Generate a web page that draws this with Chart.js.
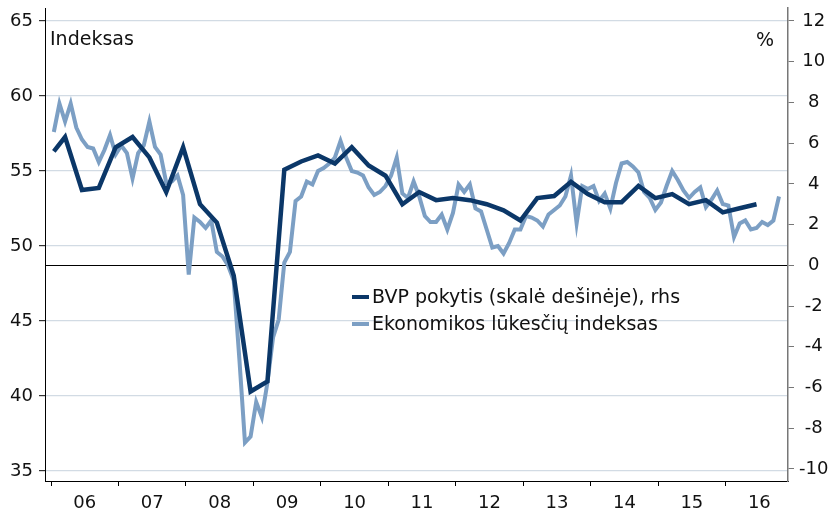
<!DOCTYPE html>
<html>
<head>
<meta charset="utf-8">
<script src="https://cdn.jsdelivr.net/npm/chart.js@4/dist/chart.umd.min.js"></script>
<style>
  html, body { margin: 0; padding: 0; background: #fff; }
  #wrap { width: 830px; height: 512px; }
</style>
</head>
<body>
<div id="wrap"><canvas id="chart"></canvas></div>
<script>
// Ekonomikos lūkesčių indeksas, monthly from 2006-01
const esiValues = [
  57.6, 59.5, 58.3, 59.5, 57.9, 57.1, 56.6, 56.5, 55.6, 56.4, 57.4, 56.1,
  56.7, 56.2, 54.5, 56.2, 56.7, 58.3, 56.6, 56.1, 54.2, 54.3, 54.7, 53.4,
  48.1, 51.9, 51.6, 51.2, 51.7, 49.6, 49.3, 48.7, 47.7, 42.5, 36.9, 37.3,
  39.6, 38.6, 40.9, 43.9, 45.1, 48.9, 49.6, 53.0, 53.3, 54.3, 54.1, 55.0,
  55.2, 55.5, 55.9, 57.0, 55.9, 55.0, 54.9, 54.7, 53.9, 53.4, 53.6, 54.0,
  54.7, 55.9, 53.5, 53.2, 54.3, 53.3, 52.0, 51.6, 51.6, 52.1, 51.1, 52.2,
  54.1, 53.6, 54.1, 52.5, 52.3, 51.1, 49.9, 50.0, 49.5, 50.2, 51.1, 51.1,
  52.0, 51.9, 51.7, 51.3, 52.1, 52.4, 52.7, 53.3, 54.7, 51.5, 54.0, 53.8,
  54.0, 53.0, 53.5, 52.5, 54.2, 55.5, 55.6, 55.3, 54.9, 53.6, 53.2, 52.4,
  52.9, 54.0, 55.0, 54.4, 53.7, 53.2, 53.6, 53.9, 52.6, 53.1, 53.7, 52.8,
  52.7, 50.6, 51.5, 51.7, 51.1, 51.2, 51.6, 51.4, 51.7, 53.3
];
// BVP pokytis, %: first value 2006-01, then quarterly (2006 Q1 ... 2016 Q2)
const gdpValues = [
  5.6,
  6.3, 3.7, 3.8, 5.8, 6.3, 5.3, 3.6, 5.8, 3.0, 2.1,
  -0.5, -6.2, -5.7, 4.7, 5.1, 5.4, 5.0, 5.8, 4.9, 4.4,
  3.0, 3.6, 3.2, 3.3, 3.2, 3.0, 2.7, 2.2, 3.3, 3.4,
  4.1, 3.5, 3.1, 3.1, 3.9, 3.3, 3.5, 3.0, 3.2, 2.6,
  2.8, 3.0
];
const yearLabels = ['06', '07', '08', '09', '10', '11', '12', '13', '14', '15', '16'];
const leftTicks = [35, 40, 45, 50, 55, 60, 65];
const rightTicks = [-10, -8, -6, -4, -2, 0, 2, 4, 6, 8, 10, 12];
const seriesNames = ['BVP pokytis (skalė dešinėje), rhs', 'Ekonomikos lūkesčių indeksas'];

const DARK = '#0b3768';
const LIGHT = '#7c9fc4';
const GRID = '#d2dbe4';
const FONT = 'DejaVu Sans';

// months counted from 2006-01, points sit in the middle of the month
const esiPoints = esiValues.map((v, i) => ({ x: i + 0.5, y: v }));
const gdpPoints = gdpValues.map((v, i) => ({ x: i === 0 ? 0.5 : 3 * (i - 1) + 2.5, y: v }));

function fixBox(w, h) {
  return s => {
    if (w !== null) s.width = w;
    if (h !== null) s.height = h;
    s.paddingTop = 0; s.paddingBottom = 0; s.paddingLeft = 0; s.paddingRight = 0;
  };
}

const extras = {
  id: 'extras',
  afterDraw(chart) {
    const ctx = chart.ctx;
    ctx.save();
    ctx.fillStyle = '#111';
    ctx.font = '19px "' + FONT + '"';
    ctx.textBaseline = 'alphabetic';
    ctx.textAlign = 'left';
    ctx.fillText('Indeksas', 50, 45);
    ctx.textAlign = 'right';
    ctx.fillText('%', 774, 46);

    // legend
    const rows = [[DARK, 4, 297], [LIGHT, 4, 324]];
    ctx.textAlign = 'left';
    ctx.textBaseline = 'middle';
    rows.forEach((r, i) => {
      ctx.strokeStyle = r[0];
      ctx.lineWidth = r[1];
      ctx.beginPath();
      ctx.moveTo(352, r[2]);
      ctx.lineTo(369, r[2]);
      ctx.stroke();
      ctx.fillText(seriesNames[i], 372, r[2] + 1);
    });
    ctx.restore();
  }
};

const tickFont = { family: FONT, size: 18 };

new Chart(document.getElementById('chart'), {
  type: 'line',
  data: {
    datasets: [
      {
        label: seriesNames[0],
        data: gdpPoints,
        yAxisID: 'y1',
        borderColor: DARK,
        borderWidth: 4.5,
        pointRadius: 0,
        tension: 0
      },
      {
        label: seriesNames[1],
        data: esiPoints,
        yAxisID: 'y',
        borderColor: LIGHT,
        borderWidth: 4,
        pointRadius: 0,
        tension: 0
      }
    ]
  },
  options: {
    responsive: true,
    maintainAspectRatio: false,
    animation: false,
    layout: { padding: { top: 8, left: 0, right: 0, bottom: 0 } },
    plugins: {
      legend: { display: false },
      tooltip: { enabled: false }
    },
    scales: {
      x: {
        type: 'linear',
        min: -1.07,
        max: 131.1,
        afterBuildTicks: s => {
          const t = [];
          for (let m = 0; m <= 126; m += 6) t.push({ value: m });
          s.ticks = t;
        },
        afterFit: fixBox(null, 31),
        ticks: {
          autoSkip: false,
          maxRotation: 0,
          padding: 7,
          color: '#111',
          font: tickFont,
          callback: v => (v % 12 === 6 ? yearLabels[(v - 6) / 12] : '')
        },
        grid: {
          drawOnChartArea: false,
          drawTicks: true,
          tickLength: 5,
          tickColor: c => (c.tick && c.tick.value % 12 === 0 ? '#000' : 'rgba(0,0,0,0)')
        },
        border: { display: true, color: '#000', width: 1 }
      },
      y: {
        position: 'left',
        min: 34.333,
        max: 65.867,
        afterBuildTicks: s => { s.ticks = leftTicks.map(v => ({ value: v })); },
        afterFit: fixBox(45, null),
        ticks: { padding: 6, color: '#111', font: tickFont },
        grid: {
          color: GRID,
          lineWidth: 1.2,
          drawTicks: true,
          tickLength: 6,
          tickColor: '#333'
        },
        border: { display: true, color: '#000', width: 1 }
      },
      y1: {
        position: 'right',
        min: -10.595,
        max: 12.638,
        afterBuildTicks: s => { s.ticks = rightTicks.map(v => ({ value: v })); },
        afterFit: fixBox(42, null),
        ticks: { padding: 5, color: '#111', font: tickFont, crossAlign: 'center' },
        grid: {
          drawOnChartArea: true,
          color: c => (c.tick && c.tick.value === 0 ? '#000' : 'rgba(0,0,0,0)'),
          lineWidth: 1,
          drawTicks: true,
          tickLength: 6,
          tickColor: '#777'
        },
        border: { display: true, color: '#777', width: 1.5 }
      }
    }
  },
  plugins: [extras]
});
</script>
</body>
</html>
